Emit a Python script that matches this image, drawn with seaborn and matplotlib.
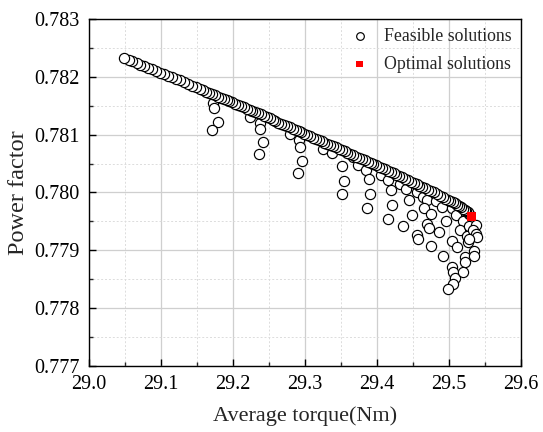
import matplotlib
matplotlib.use("Agg")
import matplotlib.pyplot as plt
import seaborn as sns
import pandas as pd
from matplotlib.ticker import MultipleLocator, FormatStrFormatter

# ---- data ----
front_torque = [
    29.049, 29.055, 29.060, 29.066, 29.071, 29.077, 29.082, 29.088, 29.093, 29.099,
    29.104, 29.110, 29.115, 29.121, 29.126, 29.132, 29.137, 29.143, 29.148, 29.154,
    29.159, 29.163, 29.167, 29.171, 29.175, 29.179, 29.183, 29.187, 29.191, 29.195,
    29.199, 29.203, 29.207, 29.211, 29.215, 29.219, 29.223, 29.227, 29.231, 29.235,
    29.239, 29.243, 29.247, 29.251, 29.255, 29.259, 29.263, 29.267, 29.271, 29.275,
    29.279, 29.283, 29.287, 29.291, 29.295, 29.299, 29.303, 29.307, 29.311, 29.315,
    29.319, 29.323, 29.327, 29.331, 29.335, 29.339, 29.343, 29.347, 29.351, 29.355,
    29.359, 29.363, 29.367, 29.371, 29.375, 29.379, 29.383, 29.387, 29.391, 29.395,
    29.399, 29.403, 29.407, 29.411, 29.415, 29.419, 29.423, 29.427, 29.431, 29.435,
    29.439, 29.443, 29.447, 29.451, 29.455, 29.459, 29.463, 29.467, 29.471, 29.475,
    29.479, 29.483, 29.487, 29.491, 29.495, 29.499, 29.502, 29.505, 29.508, 29.511,
    29.514, 29.517, 29.520, 29.522, 29.524, 29.526, 29.528,
]
front_pf = [
    0.78232, 0.78229, 0.78227, 0.78224, 0.78221, 0.78218, 0.78216, 0.78213, 0.78210, 0.78207,
    0.78205, 0.78202, 0.78199, 0.78196, 0.78194, 0.78191, 0.78188, 0.78185, 0.78182, 0.78179,
    0.78177, 0.78174, 0.78172, 0.78170, 0.78168, 0.78166, 0.78164, 0.78162, 0.78160, 0.78158,
    0.78156, 0.78153, 0.78151, 0.78149, 0.78147, 0.78145, 0.78143, 0.78141, 0.78139, 0.78137,
    0.78135, 0.78133, 0.78131, 0.78128, 0.78126, 0.78124, 0.78121, 0.78119, 0.78117, 0.78115,
    0.78113, 0.78110, 0.78108, 0.78106, 0.78104, 0.78102, 0.78099, 0.78097, 0.78095, 0.78093,
    0.78091, 0.78089, 0.78086, 0.78084, 0.78082, 0.78080, 0.78078, 0.78076, 0.78073, 0.78071,
    0.78069, 0.78067, 0.78064, 0.78062, 0.78060, 0.78058, 0.78056, 0.78053, 0.78051, 0.78049,
    0.78047, 0.78044, 0.78042, 0.78041, 0.78037, 0.78035, 0.78033, 0.78030, 0.78028, 0.78026,
    0.78023, 0.78021, 0.78019, 0.78016, 0.78014, 0.78012, 0.78009, 0.78007, 0.78004, 0.78002,
    0.78000, 0.77997, 0.77994, 0.77992, 0.77989, 0.77987, 0.77985, 0.77983, 0.77981, 0.77979,
    0.77977, 0.77975, 0.77972, 0.77970, 0.77968, 0.77966, 0.77963,
]
inner_torque = [
    29.1726, 29.1740, 29.1792, 29.1704, 29.2236, 29.2375, 29.2375, 29.2417, 29.2365, 29.2792,
    29.2921, 29.2931, 29.2958, 29.2903, 29.3254, 29.3371, 29.3510, 29.3542, 29.3510, 29.3663,
    29.3740, 29.3847, 29.3885, 29.3903, 29.3865, 29.4051, 29.4157, 29.4194, 29.4208, 29.4157,
    29.4319, 29.4403, 29.4449, 29.4482, 29.4357, 29.4551, 29.4635, 29.4690, 29.4657, 29.4750,
    29.4690, 29.4722, 29.4865, 29.4560, 29.4574, 29.4746, 29.4819, 29.4899, 29.4958, 29.5038,
    29.5097, 29.5199, 29.5153, 29.5246, 29.5260, 29.5046, 29.5115, 29.4921, 29.5222, 29.5222,
    29.5036, 29.5060, 29.5083, 29.5060, 29.4990, 29.5199, 29.5347, 29.5351, 29.5282, 29.5375,
    29.5338, 29.5375, 29.5385, 29.5282,
]
inner_pf = [
    0.78155, 0.78146, 0.78122, 0.78108, 0.78131, 0.78121, 0.78109, 0.78087, 0.78066, 0.78101,
    0.78090, 0.78078, 0.78055, 0.78034, 0.78075, 0.78068, 0.78045, 0.78020, 0.77997, 0.78061,
    0.78048, 0.78039, 0.78023, 0.77997, 0.77974, 0.78030, 0.78022, 0.78004, 0.77978, 0.77954,
    0.78014, 0.78006, 0.77987, 0.77961, 0.77942, 0.78001, 0.77992, 0.77987, 0.77973, 0.77963,
    0.77946, 0.77938, 0.77932, 0.77927, 0.77920, 0.77908, 0.77986, 0.77975, 0.77950, 0.77973,
    0.77961, 0.77951, 0.77935, 0.77925, 0.77915, 0.77916, 0.77905, 0.77890, 0.77889, 0.77879,
    0.77872, 0.77862, 0.77852, 0.77842, 0.77833, 0.77863, 0.77899, 0.77890, 0.77942, 0.77944,
    0.77935, 0.77929, 0.77923, 0.77919,
]
optimal_torque = [29.531]
optimal_pf = [0.77958]

x_ticks = [29.0, 29.1, 29.2, 29.3, 29.4, 29.5, 29.6]
y_ticks = [0.777, 0.778, 0.779, 0.780, 0.781, 0.782, 0.783]

# ---- style ----
sns.set_style("ticks")
plt.rcParams['font.family'] = ['Liberation Serif', 'DejaVu Serif']
plt.rcParams['mathtext.fontset'] = 'stix'

fig = plt.figure(figsize=(5.43, 4.32), dpi=100)
ax = fig.add_axes([0.1639, 0.1528, 0.7956, 0.8032])

feas = pd.DataFrame({
    "torque": inner_torque + front_torque[::-1],
    "pf": inner_pf + front_pf[::-1],
})
opt = pd.DataFrame({"torque": optimal_torque, "pf": optimal_pf})

sns.scatterplot(data=feas, x="torque", y="pf", ax=ax, marker="o", s=54,
                facecolor="white", edgecolor="#000000", linewidth=0.85,
                label="Feasible solutions", zorder=3)
sns.scatterplot(data=opt, x="torque", y="pf", ax=ax, marker="s", s=40,
                color="#ff0000", edgecolor="none", linewidth=0,
                label="Optimal solutions", zorder=4)

ax.set_xlim(29.0, 29.6)
ax.set_ylim(0.777, 0.783)
ax.set_xticks(x_ticks)
ax.set_yticks(y_ticks)
ax.xaxis.set_major_formatter(FormatStrFormatter('%.1f'))
ax.yaxis.set_major_formatter(FormatStrFormatter('%.3f'))
ax.xaxis.set_minor_locator(MultipleLocator(0.05))
ax.yaxis.set_minor_locator(MultipleLocator(0.0005))

ax.grid(which='major', color='#cfcfcf', linestyle='-', linewidth=0.9, zorder=0)
ax.grid(which='minor', color='#dcdcdc', linestyle=(0, (2, 2)), linewidth=0.7, zorder=0)
ax.set_axisbelow(True)

ax.tick_params(which='major', direction='in', length=5, width=1, labelsize=14.5,
               top=False, right=False, colors='black')
ax.tick_params(axis='x', which='major', pad=6.5)
ax.tick_params(axis='y', which='major', pad=6.5)
ax.tick_params(which='minor', direction='in', length=3, width=1,
               top=False, right=False)
for sp in ax.spines.values():
    sp.set_visible(True)
    sp.set_color('black')
    sp.set_linewidth(1.0)

ax.set_xlabel("Average torque(Nm)", fontsize=16, labelpad=9)
ax.set_ylabel("Power factor", fontsize=17.5, labelpad=4)

leg = ax.legend(loc='upper right', frameon=False, fontsize=12.8, markerscale=0.75,
                handletextpad=0.9, labelspacing=0.6, borderaxespad=0.1,
                handlelength=1.0)

fig.savefig("out.png", dpi=100)
